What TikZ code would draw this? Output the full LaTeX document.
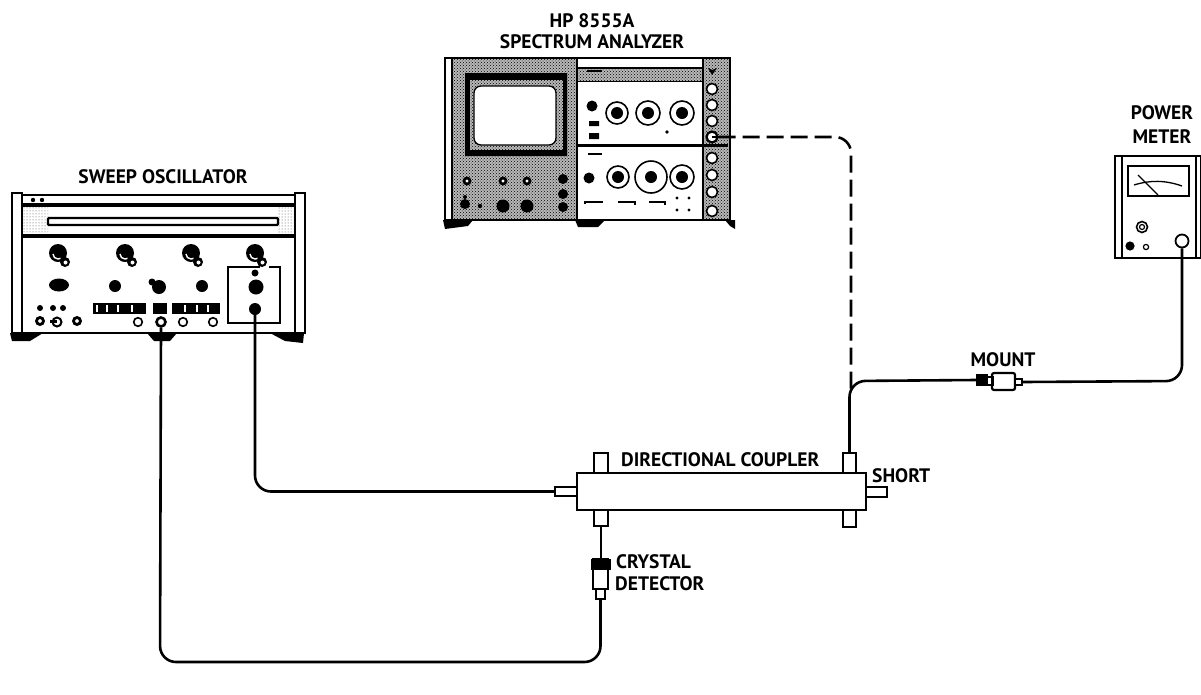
\documentclass[tikz,border=0pt]{standalone}
\usepackage{fontspec}
\setmainfont{PT Sans}
\usetikzlibrary{patterns}

\newcommand{\lobeknob}[2]{
        \fill [black] (#1,#2) circle (9);
        \fill [black] (#1+7,#2+9) circle (5);
        \draw [white,line width=1.4] (#1-5,#2+1) arc (180:60:5);
        \fill [white] (#1+7.5,#2+9.5) circle (2);
}

\begin{document}
\begin{tikzpicture}[x=1pt,y=-1pt,
        label/.style={inner sep=0pt,font=\fontsize{19.5}{22}\selectfont\bfseries,text=black},
        panel/.style={draw=black,line width=1.7,fill=white},
        band/.style={preaction={fill=black!28},pattern=crosshatch dots,pattern color=black},
        specks/.style={pattern=dots,pattern color=black!70},
        foot/.style={fill=black},
        stub/.style={draw=black,line width=2.2,fill=white,inner sep=0pt},
        port/.style={circle,draw=black,line width=1.8,fill=white,inner sep=0pt,minimum size=10},
        darkport/.style={circle,fill=black,inner sep=0pt,minimum size=12},
        cable/.style={line width=2.6,black,rounded corners=16},
        probe/.style={line width=2.6,black,dash pattern=on 17 off 7,rounded corners=16}]

	\useasboundingbox (0,0) rectangle (1201,694);

	% sweep oscillator
	\node [label] (oscname) at (163,177) {SWEEP OSCILLATOR};
	\draw [panel] (22,195) rectangle (295,333);
	\draw [panel] (12,193) rectangle (22,333);
	\draw [panel] (295,193) rectangle (305,333);
	\fill [black] (22,203) rectangle (295,206.5);
	\fill [black] (22,233.5) rectangle (295,238);
	\fill [specks] (23,207) rectangle (48,233);
	\fill [specks] (278,207) rectangle (294,233);
	\draw [black,line width=2.2,fill=white,rounded corners=1] (48,218) rectangle (278,225);
	\fill [foot] (10,333) -- (43,333) -- (30,341) -- (12,341) -- cycle;
	\fill [foot] (147,333) -- (177,333) -- (170,341) -- (154,341) -- cycle;
	\fill [foot] (270,333) -- (304,333) -- (303,343) -- (285,341) -- cycle;
	\fill [black] (33,200) circle (2.2) (42,200) circle (2.2);
	\foreach \knobx in {58,125,191,255}
		\lobeknob{\knobx}{253};
	\fill [black] (59,285) ellipse (10 and 6.5);
	\fill [black] (115,286) circle (6) (159,287) circle (7) (202,286) circle (6);
	\fill [black] (152,282) circle (3.5);
	\draw [black,line width=2.2] (260,267) -- (228,267) -- (228,323) -- (280,323) -- (280,267) -- (269,267);
	\fill [black] (255,273) circle (3.5) (256,287) circle (7.5);
	\fill [black] (93,303) rectangle (146,314);
	\fill [black] (153,303) rectangle (167,314);
	\fill [black] (172,303) rectangle (220,314);
	\foreach \tickx in {97,107,118,132,185,197,208}
		\draw [white,line width=1.2] (\tickx,305) -- (\tickx,312);
	\foreach \dialx in {138,183,213}
		\draw [black,line width=1.6,fill=white] (\dialx,322) circle (4.3);
	\fill [black] (40,308) circle (3) (53,308) circle (3) (63,308) circle (3);
	\draw [black,line width=2.8,fill=white] (40,321) circle (3.5);
	\draw [black,line width=2.8,fill=white] (77,321) circle (3.5);
	\draw [black,line width=2,fill=white] (57,322) circle (4.5);
	\fill [black] (50,319.5) rectangle (57,323);
	\node [darkport] (oscrf) at (255,309) {};
	\node [port,minimum size=9,line width=2.6] (oscfm) at (161,322) {};

	% spectrum analyzer
	\node [label] (hpname) at (592,21) {HP 8555A};
	\node [label] (saname) at (592,42) {SPECTRUM ANALYZER};
	\draw [panel] (445,58) rectangle (730,220);
	\fill [band] (452,59) rectangle (577,219);
	\fill [band] (703,59) rectangle (729,219);
	\fill [band] (578,68) rectangle (702,81);
	\draw [black,line width=1.4] (445,58) -- (452,58) -- (452,220);
	\draw [black,line width=1.7] (577,58) -- (577,220);
	\draw [black,line width=1.7] (703,58) -- (703,220);
	\draw [black,line width=1.4] (577,68) -- (703,68);
	\draw [black,line width=1.8] (577,81.5) -- (703,81.5);
	\fill [black] (577,143.5) rectangle (728,146.5);
	\fill [white] (465,73) rectangle (567,156);
	\fill [black,even odd rule] (465,73) rectangle (567,156) (470,80) rectangle (563,150);
	\fill [band] (470,80) rectangle (563,150);
	\draw [black,line width=1.3,fill=white,rounded corners=7] (474,86) rectangle (556,145);
	\fill [black] (443,220) -- (473,220) -- (468,226) -- (445,229) -- cycle;
	\fill [black] (575,220) -- (605,220) -- (598,227) -- (578,227) -- cycle;
	\fill [black] (725,220) -- (735,220) -- (735,229) -- (730,226) -- cycle;
	\fill [black] (592,106) circle (5.5) (589,178) circle (5.5);
	\fill [black] (589,121) rectangle (599,126) (589,133) rectangle (599,139);
	\fill [black] (667,132) circle (1.8);
	\fill [black] (587,70) rectangle (602,72);
	\fill [black] (588,153) rectangle (602,155);
	\foreach \dialx/\dialy/\dialr in {617/113/11,648/113/12,682/113/12,618/177/11,651/177/16,682/177/12} {
		\draw [black,line width=1.6,fill=white] (\dialx,\dialy) circle (\dialr);
		\fill [black] (\dialx,\dialy) circle (6);
	}
	\draw [black,line width=2] (585,204) -- (585,202) -- (603,202);
	\draw [black,line width=2] (618,202) -- (635,202) -- (635,205);
	\draw [black,line width=2] (649,202) -- (665,202) -- (665,205);
	\fill [black] (677,198) circle (1.6) (689,198) circle (1.6) (677,210) circle (1.6) (689,210) circle (1.6);
	\foreach \jackx in {467,503,527} {
		\fill [black] (\jackx,181) circle (4.5);
		\fill [white] (\jackx,181) circle (1.6);
	}
	\fill [black] (563,179) circle (5) (563,194) circle (5) (563,207) circle (5);
	\fill [black] (465,204) circle (5) (465,197) circle (2) (480,206) circle (2.2);
	\fill [black] (503,206) circle (6.5) (527,206) circle (6.5);
	\fill [black] (712,70) -- (717,68) -- (712,75) -- (708,68) -- cycle;
	\foreach \jacky in {89,105,121,158,175,192,211}
		\draw [black,line width=1.6,fill=white] (712,\jacky) circle (5.5);
	\node [port,minimum size=11,line width=2.2] (saout) at (712,137) {};
	\coordinate (sabend) at (851,137);

	% power meter
	\node [label] (pmname1) at (1162,113) {POWER};
	\node [label] (pmname2) at (1162,137) {METER};
	\draw [panel] (1115,156) rectangle (1201,258);
	\draw [black,line width=1.6] (1122,157) -- (1122,258);
	\draw [black,line width=1.6] (1196,157) -- (1196,258);
	\draw [black,line width=2] (1128,166) rectangle (1189,196);
	\draw [black,line width=1.3] (1134,185) .. controls (1150,180) and (1165,180) .. (1182,186);
	\draw [black,line width=1.3] (1138,175) -- (1158,195);
	\draw [black,line width=1.6] (1142,227) circle (5.5);
	\draw [black,line width=1.2] (1142,227) circle (2.5);
	\fill [black] (1130,246) circle (4.6);
	\draw [black,line width=1.2] (1146,247) circle (2.6);
	\node [port,minimum size=13] (pmin) at (1182,241) {};

	% directional coupler
	\node [stub,minimum width=14,minimum height=20] (cpltl) at (601,463) {};
	\node [stub,minimum width=13,minimum height=20] (cpltr) at (849.5,463) {};
	\node [stub,minimum width=14,minimum height=16] (cplbl) at (601,518) {};
	\node [stub,minimum width=13,minimum height=17] (cplbr) at (849.5,518.5) {};
	\node [stub,minimum width=22,minimum height=9] (cplin) at (566,491.5) {};
	\node [stub,minimum width=21,minimum height=10] (cplsh) at (876.5,492) {};
	\node [stub,minimum width=289,minimum height=37] (cpl) at (721.5,491.5) {};
	\node [label,anchor=west] (cplname) at (621,460) {DIRECTIONAL COUPLER};
	\node [label,anchor=west] (shname) at (872,476) {SHORT};

	% crystal detector
	\node [stub,minimum width=15,minimum height=30] (crybody) at (600.5,574) {};
	\node [stub,minimum width=18,minimum height=9,fill=black] (crycap) at (601,564.5) {};
	\node [stub,minimum width=9,minimum height=10] (crynub) at (600.5,594) {};
	\node [label,anchor=west] (cryname1) at (616,562) {CRYSTAL};
	\node [label,anchor=west] (cryname2) at (615,584) {DETECTOR};

	% mount
	\node [stub,minimum width=23,minimum height=17,rounded corners=2] (mnt) at (1003.5,381.5) {};
	\node [stub,minimum width=7,minimum height=8] (mntl) at (989,381) {};
	\node [stub,minimum width=10,minimum height=10,fill=black] (mntcap) at (982,380) {};
	\node [stub,minimum width=7,minimum height=6] (mntr) at (1018.5,382) {};
	\node [label] (mntname) at (1003,360) {MOUNT};

	\coordinate (rfcorner) at (cplin.west -| oscrf);
	\coordinate (fmcorner) at (160,662);
	\coordinate (crycorner) at (600.5,662);
	\coordinate (cplcorner) at (849.5,381);
	\coordinate (mntcorner) at (1182,381);
	\coordinate (probeend) at (851,392);

	\draw [cable] (oscrf.center) -- (rfcorner) -- (cplin.west);
	\draw [cable] (oscfm.south) -- (fmcorner) -- (crycorner) -- (crynub.south);
	\draw [cable] (cplbl.south) -- (crycap.north);
	\draw [cable] (cpltr.north) -- (cplcorner) -- (mntcap.west);
	\draw [cable] (mntr.east) -- (mntcorner) -- (pmin.south);
	\draw [cable] (saout.center) -- (saout.east);
	\draw [probe] (saout.east) -- (sabend) -- (probeend);
\end{tikzpicture}
\end{document}
